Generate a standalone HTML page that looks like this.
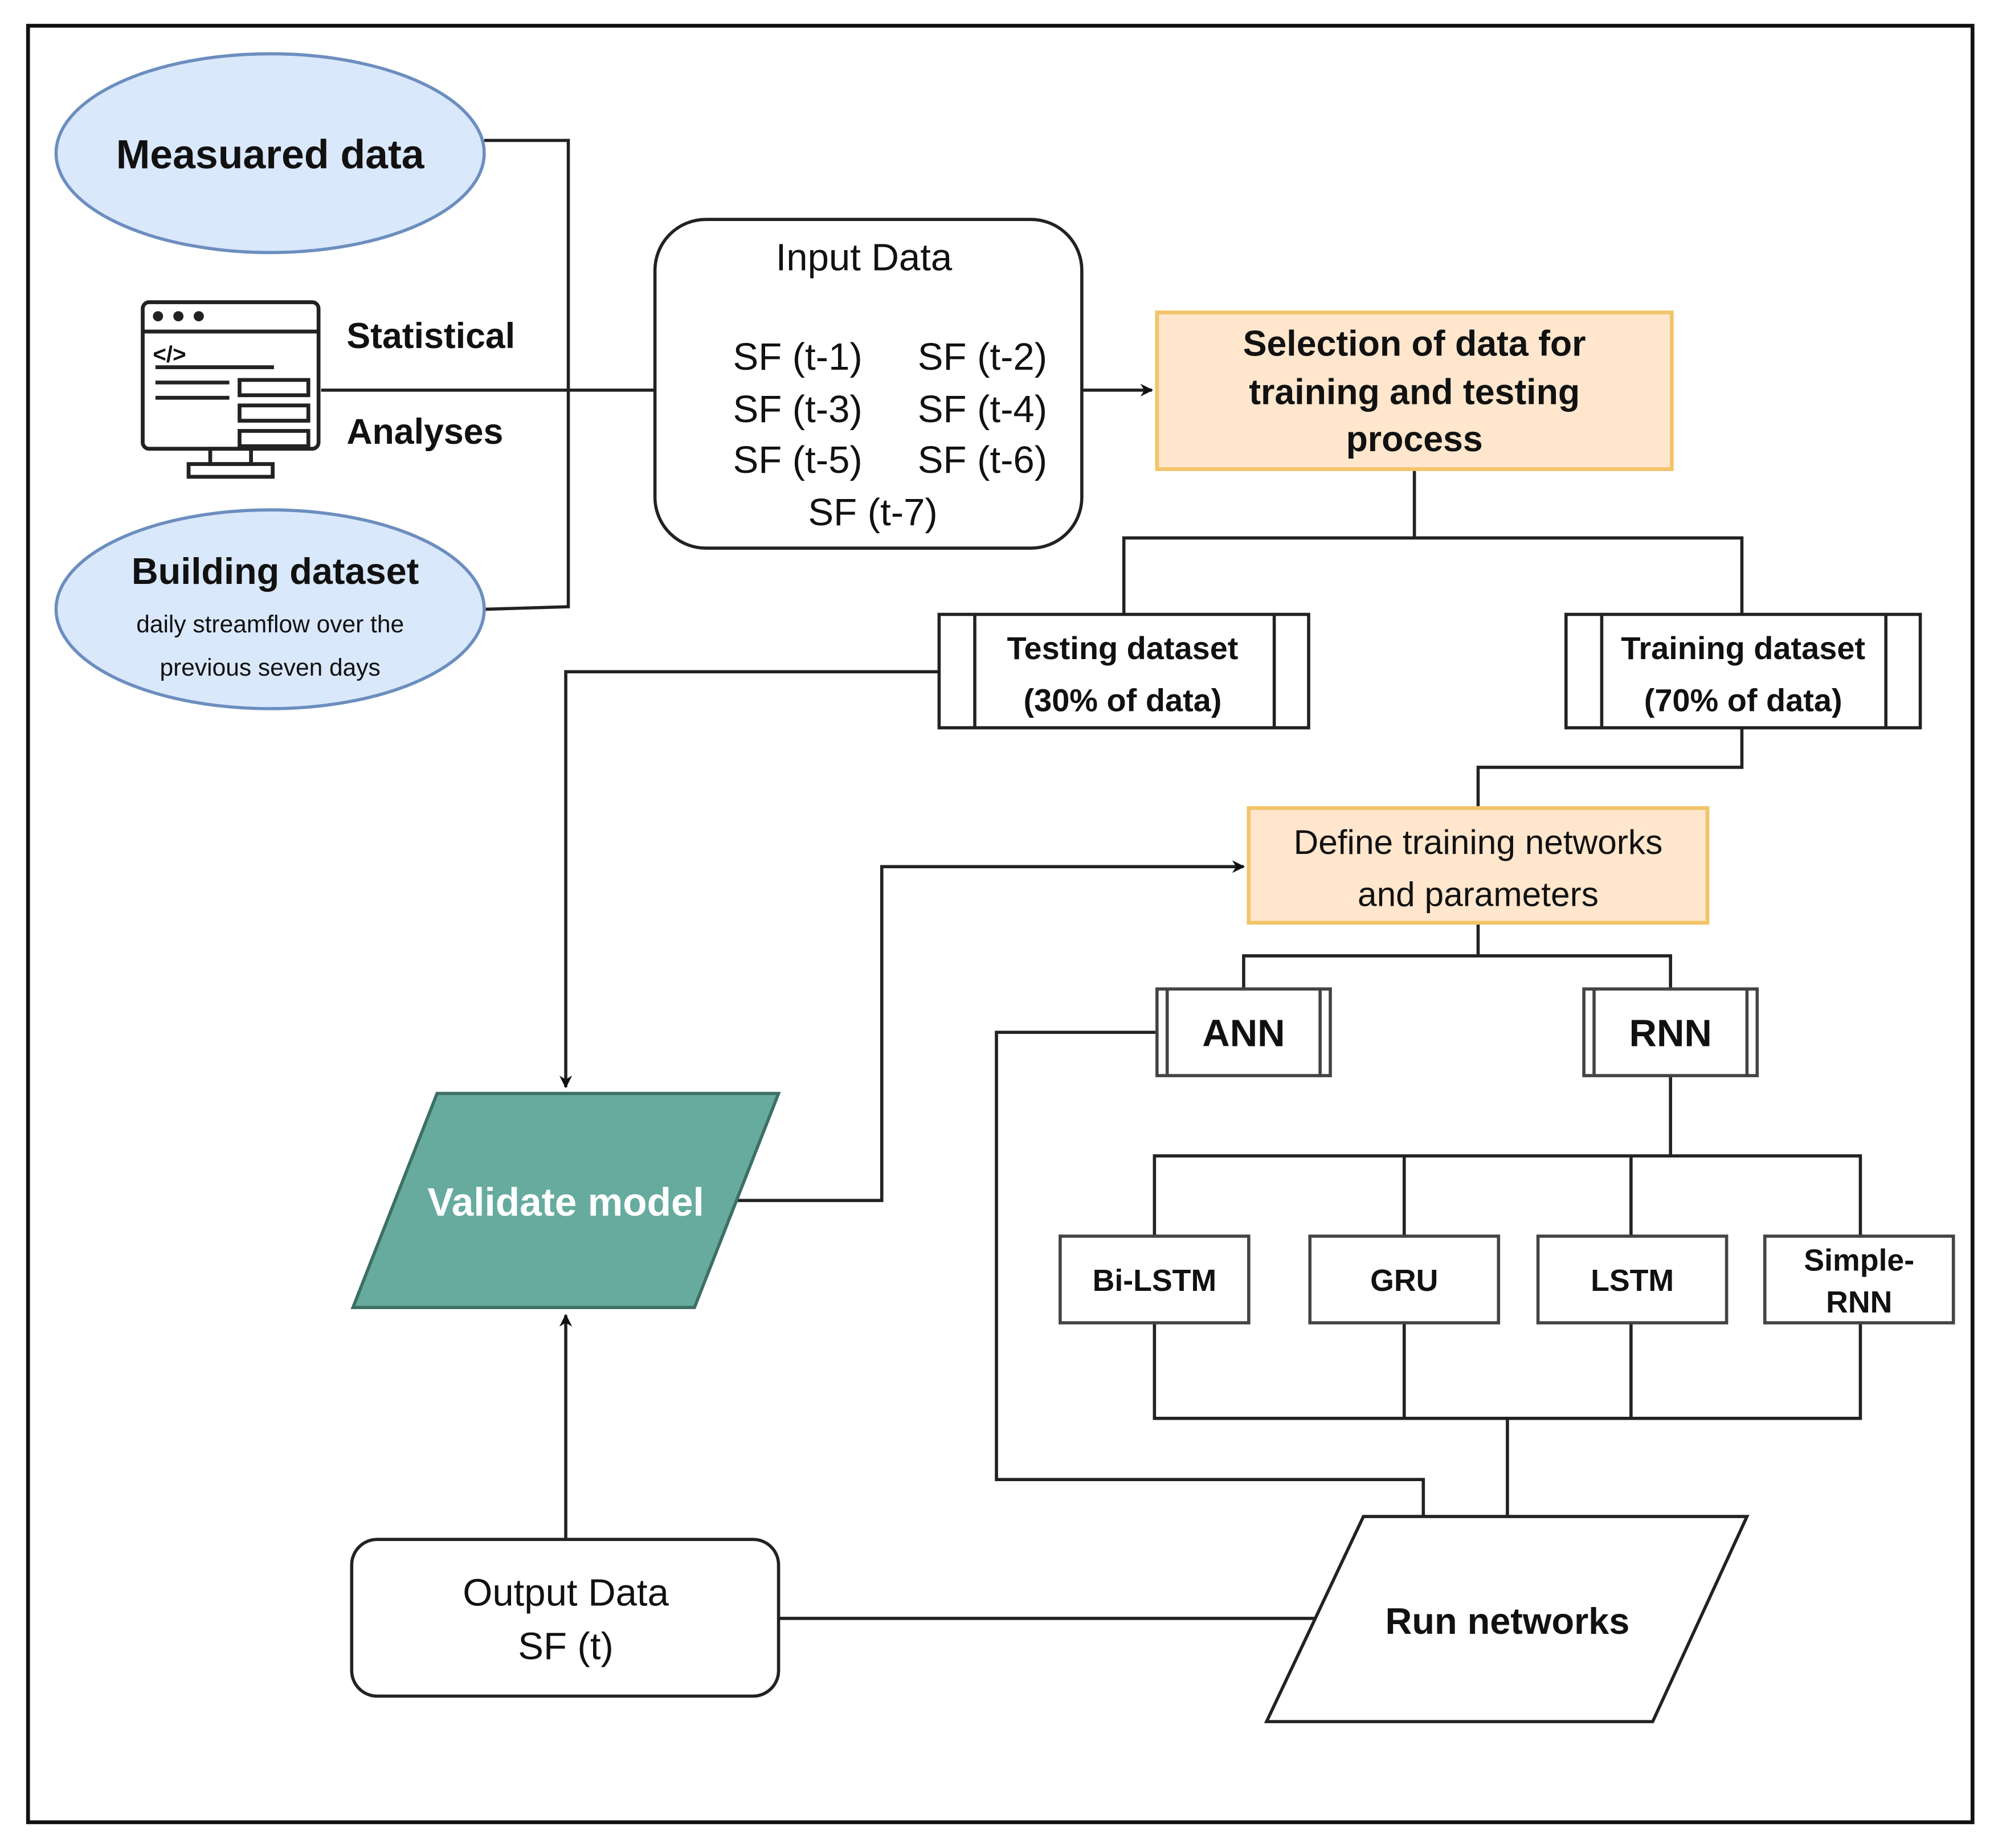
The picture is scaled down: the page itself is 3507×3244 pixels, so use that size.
<!DOCTYPE html>
<html><head><meta charset="utf-8"><style>
html,body{margin:0;padding:0;background:#fff;}
svg{display:block;}
text{font-family:"Liberation Sans",Arial,sans-serif;fill:#111;}
</style></head><body>
<svg width="3507" height="3244" viewBox="0 0 1568 1450" xmlns="http://www.w3.org/2000/svg">
<defs>
<marker id="ar" markerWidth="10" markerHeight="10" refX="9" refY="5" orient="auto" markerUnits="userSpaceOnUse">
<path d="M0,0 L10,5 L0,10 L3,5 z" fill="#111"/></marker>
</defs>
<rect x="0" y="0" width="1568" height="1450" fill="#fff"/>
<rect x="22" y="20" width="1526" height="1410" fill="none" stroke="#111" stroke-width="3"/>

<g fill="none" stroke="#222" stroke-width="2.5">
<!-- left bracket -->
<polyline points="380,110 446,110 446,476 380,478"/>
<line x1="252" y1="306" x2="514" y2="306"/>
<line x1="849" y1="306" x2="904" y2="306" marker-end="url(#ar)"/>
<polyline points="1110,368 1110,422"/>
<polyline points="882,482 882,422 1367,422 1367,482"/>
<polyline points="737,527 444,527 444,853" marker-end="url(#ar)"/>
<polyline points="1367,571 1367,602 1160,602 1160,634"/>
<polyline points="578,942 692,942 692,680 976,680" marker-end="url(#ar)"/>
<polyline points="1160,724 1160,750"/>
<polyline points="976,776 976,750 1311,750 1311,776"/>
<polyline points="908,810 782,810 782,1161 1117,1161 1117,1190"/>
<polyline points="1311,844 1311,907"/>
<polyline points="906,970 906,907 1460,907 1460,970"/>
<line x1="1102" y1="907" x2="1102" y2="970"/>
<line x1="1280" y1="907" x2="1280" y2="970"/>
<polyline points="906,1038 906,1113 1460,1113 1460,1038"/>
<line x1="1102" y1="1038" x2="1102" y2="1113"/>
<line x1="1280" y1="1038" x2="1280" y2="1113"/>
<line x1="1183" y1="1113" x2="1183" y2="1190"/>
<line x1="611" y1="1270" x2="1032" y2="1270"/>
<line x1="444" y1="1208" x2="444" y2="1032" marker-end="url(#ar)"/>
</g>

<!-- ellipses -->
<ellipse cx="212" cy="120" rx="168" ry="78" fill="#dae8fc" stroke="#6c8ebf" stroke-width="2.5"/>
<text x="212" y="132" font-size="32" font-weight="bold" text-anchor="middle">Measuared data</text>
<ellipse cx="212" cy="478" rx="168" ry="78" fill="#dae8fc" stroke="#6c8ebf" stroke-width="2.5"/>
<text x="216" y="458" font-size="29" font-weight="bold" text-anchor="middle">Building dataset</text>
<text x="212" y="496" font-size="19" text-anchor="middle">daily streamflow  over the</text>
<text x="212" y="530" font-size="19" text-anchor="middle">previous seven days</text>

<!-- computer icon -->
<g fill="none" stroke="#222" stroke-width="3">
<rect x="112" y="237" width="138" height="115" rx="5"/>
<line x1="112" y1="260" x2="250" y2="260"/>
<rect x="165" y="352" width="32" height="12"/>
<rect x="148" y="364" width="66" height="10"/>
<rect x="188" y="298" width="54" height="12"/>
<rect x="188" y="318" width="54" height="12"/>
<rect x="188" y="338" width="54" height="12"/>
<line x1="122" y1="288" x2="215" y2="288"/>
<line x1="122" y1="300" x2="180" y2="300"/>
<line x1="122" y1="312" x2="180" y2="312"/>
</g>
<circle cx="124" cy="248" r="4" fill="#222"/><circle cx="140" cy="248" r="4" fill="#222"/><circle cx="156" cy="248" r="4" fill="#222"/>
<text x="120" y="284" font-size="18" font-weight="bold">&lt;/&gt;</text>
<text x="272" y="273" font-size="28" font-weight="bold">Statistical</text>
<text x="272" y="348" font-size="28" font-weight="bold">Analyses</text>

<!-- input data -->
<rect x="514" y="172" width="335" height="258" rx="40" fill="#fff" stroke="#222" stroke-width="2.5"/>
<text x="678" y="212" font-size="30" text-anchor="middle">Input Data</text>
<g font-size="30" text-anchor="middle">
<text x="626" y="290">SF (t-1)</text><text x="771" y="290">SF (t-2)</text>
<text x="626" y="331">SF (t-3)</text><text x="771" y="331">SF (t-4)</text>
<text x="626" y="371">SF (t-5)</text><text x="771" y="371">SF (t-6)</text>
<text x="685" y="412">SF (t-7)</text>
</g>

<!-- selection -->
<rect x="908" y="245" width="404" height="123" fill="#ffe6cc" stroke="#f2c46a" stroke-width="3"/>
<g font-size="28" font-weight="bold" text-anchor="middle">
<text x="1110" y="279">Selection of data for</text>
<text x="1110" y="317">training and testing</text>
<text x="1110" y="354">process</text>
</g>

<!-- testing/training -->
<g fill="#fff" stroke="#222" stroke-width="2.5">
<rect x="737" y="482" width="290" height="89"/>
<rect x="1229" y="482" width="278" height="89"/>
</g>
<g stroke="#222" stroke-width="2.5">
<line x1="765" y1="482" x2="765" y2="571"/><line x1="1000" y1="482" x2="1000" y2="571"/>
<line x1="1257" y1="482" x2="1257" y2="571"/><line x1="1480" y1="482" x2="1480" y2="571"/>
</g>
<g font-size="25" font-weight="bold" text-anchor="middle">
<text x="881" y="517">Testing dataset</text><text x="881" y="558">(30% of data)</text>
<text x="1368" y="517">Training dataset</text><text x="1368" y="558">(70% of data)</text>
</g>

<!-- define -->
<rect x="980" y="634" width="360" height="90" fill="#ffe6cc" stroke="#f2c46a" stroke-width="3"/>
<text x="1160" y="670" font-size="27" text-anchor="middle">Define training networks</text>
<text x="1160" y="711" font-size="27" text-anchor="middle">and parameters</text>

<!-- ANN RNN -->
<g fill="#fff" stroke="#444" stroke-width="2.5">
<rect x="908" y="776" width="136" height="68"/>
<rect x="1243" y="776" width="136" height="68"/>
<line x1="916" y1="776" x2="916" y2="844"/><line x1="1036" y1="776" x2="1036" y2="844"/>
<line x1="1251" y1="776" x2="1251" y2="844"/><line x1="1371" y1="776" x2="1371" y2="844"/>
</g>
<text x="976" y="821" font-size="30" font-weight="bold" text-anchor="middle">ANN</text>
<text x="1311" y="821" font-size="30" font-weight="bold" text-anchor="middle">RNN</text>

<!-- 4 models -->
<g fill="#fff" stroke="#444" stroke-width="2.5">
<rect x="832" y="970" width="148" height="68"/>
<rect x="1028" y="970" width="148" height="68"/>
<rect x="1207" y="970" width="148" height="68"/>
<rect x="1385" y="970" width="148" height="68"/>
</g>
<g font-size="24" font-weight="bold" text-anchor="middle">
<text x="906" y="1013">Bi-LSTM</text>
<text x="1102" y="1013">GRU</text>
<text x="1281" y="1013">LSTM</text>
<text x="1459" y="997">Simple-</text>
<text x="1459" y="1030">RNN</text>
</g>

<!-- run networks -->
<polygon points="1070,1190 1371,1190 1297,1351 994,1351" fill="#fff" stroke="#222" stroke-width="2.5"/>
<text x="1183" y="1282" font-size="29" font-weight="bold" text-anchor="middle">Run networks</text>

<!-- output -->
<rect x="276" y="1208" width="335" height="123" rx="20" fill="#fff" stroke="#222" stroke-width="2.5"/>
<text x="444" y="1260" font-size="30" text-anchor="middle">Output Data</text>
<text x="444" y="1302" font-size="30" text-anchor="middle">SF (t)</text>

<!-- validate -->
<polygon points="343,858 611,858 545,1026 277,1026" fill="#67ab9f" stroke="#3d6f65" stroke-width="2.5"/>
<text x="444" y="954" font-size="31" font-weight="bold" text-anchor="middle" style="fill:#fff">Validate model</text>
</svg>
</body></html>
